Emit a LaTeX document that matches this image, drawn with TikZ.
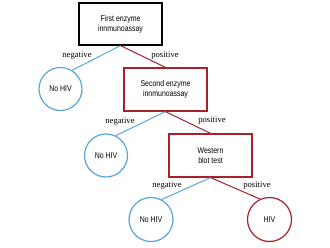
\documentclass[tikz,border=0pt]{standalone}
\usepackage{fontspec}
\setmainfont{Liberation Serif}
\newfontfamily\boxfont[FakeStretch=0.83]{Liberation Sans}
\definecolor{hivblue}{RGB}{88,166,216}
\definecolor{hivred}{RGB}{168,32,42}
\begin{document}
\begin{tikzpicture}[x=1pt,y=-1pt,
  testbox/.style={draw=hivred,line width=1.2pt,minimum width=83pt,minimum height=43pt,inner sep=0pt,align=center,font=\boxfont\fontsize{8.4}{10}\selectfont},
  result/.style={circle,line width=1.2pt,minimum size=43pt,inner sep=0pt,font=\boxfont\fontsize{8.4}{10}\selectfont},
  negline/.style={draw=hivblue,line width=1pt},
  posline/.style={draw=hivred,line width=1pt},
  lbl/.style={font=\fontsize{8.6}{10}\selectfont,inner sep=0pt}]
\useasboundingbox (0,0) rectangle (330,247);
\node[testbox,draw=black,minimum height=42pt] (b1) at (120.5,24) {First enzyme\\innmunoassay};
\node[result,draw=hivblue] (c1) at (60.5,89) {No HIV};
\node[testbox] (b2) at (165.5,89.5) {Second enzyme\\innmunoassay};
\node[result,draw=hivblue] (c2) at (106,155.5) {No HIV};
\node[testbox] (b3) at (210.5,155.5) {Western\\blot test};
\node[result,draw=hivblue,minimum size=44pt] (c3) at (151,219.5) {No HIV};
\node[result,draw=hivred,minimum size=44pt] (c4) at (269.5,219.5) {HIV};
\draw[negline] (b1.south) -- (c1.58);
\draw[posline] (b1.south) -- (b2.north);
\draw[negline] (b2.south) -- (c2.64);
\draw[posline] (b2.south) -- (b3.north);
\draw[negline] (b3.south) -- (c3.62);
\draw[posline] (b3.south) -- (c4.115);
\node[lbl] (n1) at (77,56) {negative};
\node[lbl] (p1) at (165,56) {positive};
\node[lbl] (n2) at (120,122) {negative};
\node[lbl] (p2) at (212,121) {positive};
\node[lbl] (n3) at (167,186) {negative};
\node[lbl] (p3) at (257,186) {positive};
\end{tikzpicture}
\end{document}
